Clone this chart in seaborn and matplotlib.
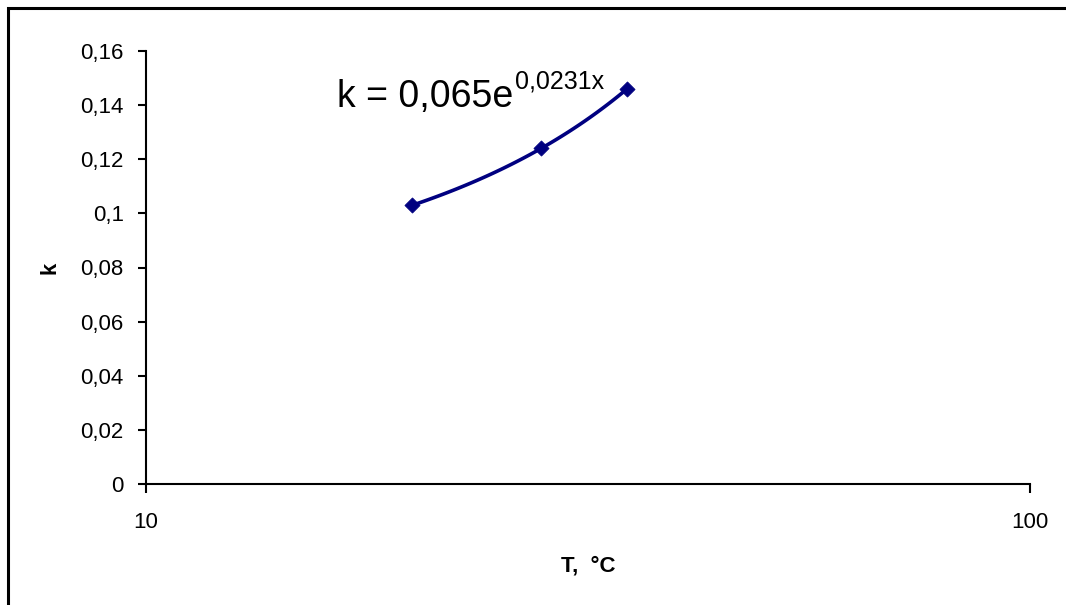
import numpy as np
import pandas as pd
import matplotlib
matplotlib.use("Agg")
import matplotlib.pyplot as plt
import seaborn as sns
from matplotlib.ticker import FixedLocator, FuncFormatter, NullLocator
from matplotlib.patches import Rectangle

# Data
T_values = [20, 28, 35]
k_values = [0.103, 0.124, 0.146]
y_ticks = [0, 0.02, 0.04, 0.06, 0.08, 0.10, 0.12, 0.14, 0.16]
x_ticks = [10, 100]
equation_main = "k = 0,065e"
equation_sup = "0,0231x"

sns.set_theme(style="white")
plt.rcParams['font.family'] = ['Liberation Sans', 'DejaVu Sans']

navy = "#000080"

fig = plt.figure(figsize=(10.66, 6.05), dpi=100)
ax = fig.add_axes([146/1066, 1-484/605, (1030-146)/1066, (484-51)/605])

df = pd.DataFrame({"T": T_values, "k": k_values})

# Exponential trendline fitted to the data
coef = np.polyfit(df["T"], np.log(df["k"]), 1)
xt = np.linspace(min(T_values), max(T_values), 100)
trend = pd.DataFrame({"T": xt, "k": np.exp(coef[1]) * np.exp(coef[0] * xt)})
sns.lineplot(data=trend, x="T", y="k", ax=ax, color=navy, linewidth=2.6)

sns.scatterplot(data=df, x="T", y="k", ax=ax, color=navy, marker="D", s=60,
                edgecolor=navy, linewidth=0.5, zorder=3)

ax.set_xscale("log")
ax.set_xlim(10, 100)
ax.set_ylim(0, 0.16)
ax.xaxis.set_major_locator(FixedLocator(x_ticks))
ax.xaxis.set_minor_locator(NullLocator())
ax.xaxis.set_major_formatter(FuncFormatter(lambda v, p: f"{v:g}"))
ax.yaxis.set_major_locator(FixedLocator(y_ticks))
ax.yaxis.set_major_formatter(FuncFormatter(lambda v, p: f"{v:g}".replace(".", ",")))

for s in ["top", "right"]:
    ax.spines[s].set_visible(False)
for s in ["left", "bottom"]:
    ax.spines[s].set_color("black")
    ax.spines[s].set_linewidth(1.5)

ax.tick_params(axis="y", which="major", direction="out", length=6, width=1.5,
               color="black", labelsize=16, pad=10, left=True)
ax.tick_params(axis="x", which="major", direction="out", length=6.5, width=1.5,
               color="black", labelsize=16, pad=14, bottom=True)
for lab in ax.get_xticklabels() + ax.get_yticklabels():
    lab.set_color("black")

ax.set_xlabel("T,  °C", fontsize=16, fontweight="bold", color="black", labelpad=16)
ax.set_ylabel("k", fontsize=16, fontweight="bold", color="black", labelpad=14)
ax.grid(False)

# Equation
t = ax.text(337/1066, 1-107/605, equation_main, transform=fig.transFigure,
            fontsize=27, color="black", ha="left", va="baseline")
ax.annotate(equation_sup, xy=(1, 0), xycoords=t, xytext=(2, 26),
            textcoords="offset pixels", fontsize=18, color="black",
            ha="left", va="baseline")

# Outer chart border (left and top visible; right/bottom beyond canvas)
fig.patches.append(Rectangle((8/1066, -0.05), 1.2, 1 - 8/605 + 0.05,
                             transform=fig.transFigure, fill=False,
                             edgecolor="black", linewidth=2.2))

fig.savefig("out.png", dpi=100)
